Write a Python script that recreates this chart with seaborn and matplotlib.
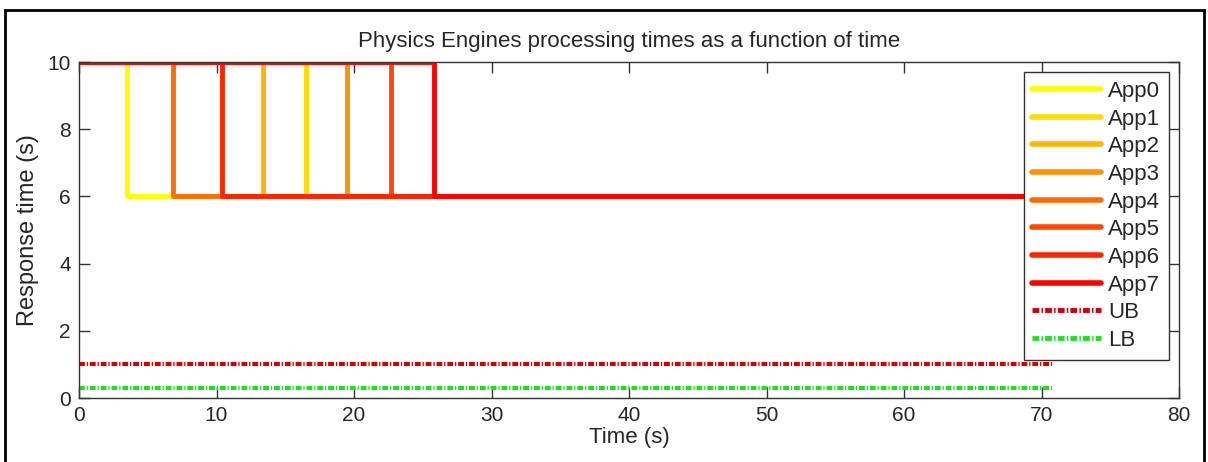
import numpy as np
import pandas as pd
import matplotlib
matplotlib.use("Agg")
import matplotlib.pyplot as plt
import seaborn as sns
from matplotlib.patches import Rectangle

# ---- data ----
apps = ["App0", "App1", "App2", "App3", "App4", "App5", "App6", "App7"]
drop_times = [3.5, 16.5, 13.4, 19.5, 6.8, 22.7, 10.4, 25.8]
high_value = 10
low_value = 6
end_time = 70.8
ub_value = 1.0
lb_value = 0.3
x_ticks = [0, 10, 20, 30, 40, 50, 60, 70, 80]
y_ticks = [0, 2, 4, 6, 8, 10]

colors = [(1.0, 1.0 - i / 7.0, 0.0) for i in range(8)]
ub_color = "#cc0000"
lb_color = "#22dd22"
dashdot = (0, (1.4, 0.45, 0.3, 0.45))

rows = []
for app, t in zip(apps, drop_times):
    for order, (x, y) in enumerate([(0, high_value), (t, high_value), (t, low_value), (end_time, low_value)]):
        rows.append({"app": app, "time": x, "resp": y, "order": order})
df = pd.DataFrame(rows)

sns.set_theme(style="white")
plt.rcParams["font.family"] = ["Liberation Sans", "DejaVu Sans"]

fig = plt.figure(figsize=(12.08, 4.62), dpi=100)
ax = fig.add_axes([79 / 1208, 1 - 398 / 462, 1100 / 1208, 336 / 462])

sns.lineplot(data=df, x="time", y="resp", hue="app", hue_order=apps,
             palette=colors, sort=False, estimator=None, units="app",
             linewidth=3.5, ax=ax, legend=False)

bx = [0, end_time]
ax.plot(bx, [ub_value, ub_value], color=ub_color, lw=3, linestyle=dashdot)
ax.plot(bx, [lb_value, lb_value], color=lb_color, lw=3, linestyle=dashdot)

ax.set_xlim(0, 80)
ax.set_ylim(0, 10)
ax.set_xticks(x_ticks)
ax.set_yticks(y_ticks)
ax.tick_params(direction="in", length=8, width=1, color="#333333",
               top=True, right=True, bottom=True, left=True, labelsize=15, pad=6)
for s in ax.spines.values():
    s.set_visible(True)
    s.set_color("#333333")
    s.set_linewidth(1)

ax.set_xlabel("Time (s)", fontsize=16, labelpad=1)
ax.set_ylabel("Response time (s)", fontsize=17, labelpad=6)
ax.set_title("Physics Engines processing times as a function of time", fontsize=16, pad=11)

handles = [plt.Line2D([], [], color=c, lw=4) for c in colors]
handles.append(plt.Line2D([], [], color=ub_color, lw=3.5, linestyle=dashdot))
handles.append(plt.Line2D([], [], color=lb_color, lw=3.5, linestyle=dashdot))
labels = apps + ["UB", "LB"]
leg = ax.legend(handles, labels, loc="upper right", bbox_to_anchor=(1169 / 1208, 1 - 72 / 462),
                bbox_transform=fig.transFigure, fontsize=16, frameon=True, fancybox=False,
                framealpha=1, handlelength=3.1, labelspacing=0.3, borderpad=0.4,
                handletextpad=0.3, borderaxespad=0)
leg.get_frame().set_edgecolor("#333333")
leg.get_frame().set_linewidth(1)

fig.patches.append(Rectangle((5 / 1208, -0.1), (1204 - 5) / 1208, 1.1 - 10 / 462,
                             transform=fig.transFigure, fill=False, edgecolor="black",
                             linewidth=2, clip_on=False))

fig.savefig("out.png", dpi=100)
